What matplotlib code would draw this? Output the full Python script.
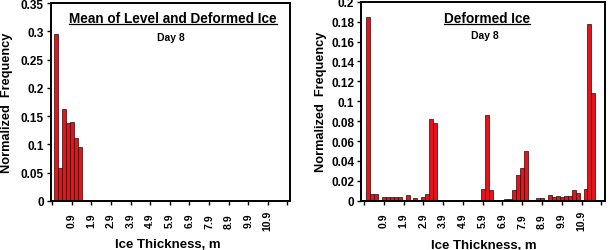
import numpy as np
import matplotlib
matplotlib.use("Agg")
import matplotlib.pyplot as plt
from matplotlib.lines import Line2D

plt.rcParams["font.family"] = ["Liberation Sans", "DejaVu Sans"]
plt.rcParams["font.weight"] = "bold"

# 0.2 m thickness bins, centres 0.1 .. 11.9
BIN_W = 0.2
bin_centres = np.round(np.arange(60) * BIN_W + 0.1, 1)

# mean of level and deformed ice, day 8 (only the first bins are non-zero)
mean_vals = [0.296, 0.058, 0.163, 0.137, 0.140, 0.111, 0.095]

# deformed ice, day 8
deformed_vals = [
    0.185, 0.007, 0.007, 0.0, 0.004, 0.0035, 0.0035, 0.0035, 0.0035, 0.0,
    0.006, 0.0, 0.003, 0.0, 0.0035, 0.0065, 0.082, 0.078, 0.0, 0.0,
    0.0, 0.0, 0.0, 0.0, 0.0, 0.0008, 0.0, 0.0, 0.0, 0.012,
    0.086, 0.011, 0.0, 0.0008, 0.0008, 0.0015, 0.0015, 0.011, 0.026, 0.033,
    0.050, 0.0, 0.0, 0.003, 0.003, 0.0, 0.0055, 0.0035, 0.0045, 0.0035,
    0.005, 0.005, 0.011, 0.008, 0.0, 0.012, 0.178, 0.108, 0.0, 0.0,
]

tick_pos = np.round(np.arange(13) - 0.1, 1)
tick_labels = [""] + [f"{v:.1f}" for v in tick_pos[1:-1]] + [""]

left_yticks = [0, 0.05, 0.1, 0.15, 0.2, 0.25, 0.3, 0.35]
right_yticks = [0, 0.02, 0.04, 0.06, 0.08, 0.1, 0.12, 0.14, 0.16, 0.18, 0.2]

BAR_FACE = "#e3141c"
BAR_EDGE = "#3a0000"


def fmt(v):
    return "0" if v == 0 else f"{v:g}"


def draw_panel(ax, values, yticks, title, xlim, ylab_x, xlab_x, title_x, title_y, day_y):
    vals = np.zeros(len(bin_centres))
    vals[:len(values)] = values
    ax.bar(bin_centres, vals, width=BIN_W, color=BAR_FACE,
           edgecolor=BAR_EDGE, linewidth=0.5)
    ax.set_xlim(*xlim)
    ax.set_ylim(yticks[0], yticks[-1])
    ax.set_yticks(yticks)
    ax.set_yticklabels([fmt(v) for v in yticks], fontsize=8.5, fontweight="bold")
    ax.set_xticks(tick_pos)
    ax.set_xticklabels(tick_labels, rotation=90, va="center",
                       fontsize=7.5, fontweight="bold")
    ax.tick_params(axis="x", direction="out", length=3, width=1, pad=11)
    ax.tick_params(axis="y", direction="out", length=3, width=1, pad=2)
    for s in ax.spines.values():
        s.set_linewidth(1.4)
    ax.set_ylabel("Normalized  Frequency", fontsize=9.2, fontweight="bold")
    ax.yaxis.set_label_coords(ylab_x, 0.5)
    ax.yaxis.label.set_va("center")
    ax.set_xlabel("Ice Thickness, m", fontsize=9.5, fontweight="bold")
    ax.xaxis.set_label_coords(xlab_x, -0.22)
    ax.xaxis.label.set_va("center")
    t = ax.text(title_x, title_y, title, transform=ax.transAxes,
                ha="center", va="center", fontsize=9.8, fontweight="bold")
    ax.text(title_x - 0.01, day_y, "Day 8", transform=ax.transAxes,
            ha="center", va="center", fontsize=7.5, fontweight="bold")
    return t


fig = plt.figure(figsize=(6.11, 2.51), dpi=100)
ax1 = fig.add_axes([0.083, 0.196, 0.392, 0.788])
ax2 = fig.add_axes([0.591, 0.196, 0.399, 0.793])

t1 = draw_panel(ax1, mean_vals, left_yticks, "Mean of Level and Deformed Ice",
                (-0.17, 12.04), -0.182, 0.49, 0.51, 0.923, 0.828)
t2 = draw_panel(ax2, deformed_vals, right_yticks, "Deformed Ice",
                (-0.25, 12.08), -0.165, 0.504, 0.518, 0.918, 0.833)

# underline the panel titles
fig.canvas.draw()
renderer = fig.canvas.get_renderer()
for t in (t1, t2):
    bb = t.get_window_extent(renderer).transformed(fig.transFigure.inverted())
    y = (bb.y0 + bb.y1) / 2 - 0.024
    fig.add_artist(Line2D([bb.x0, bb.x1], [y, y], color="black", lw=0.9))

fig.savefig("out.png", dpi=100)
